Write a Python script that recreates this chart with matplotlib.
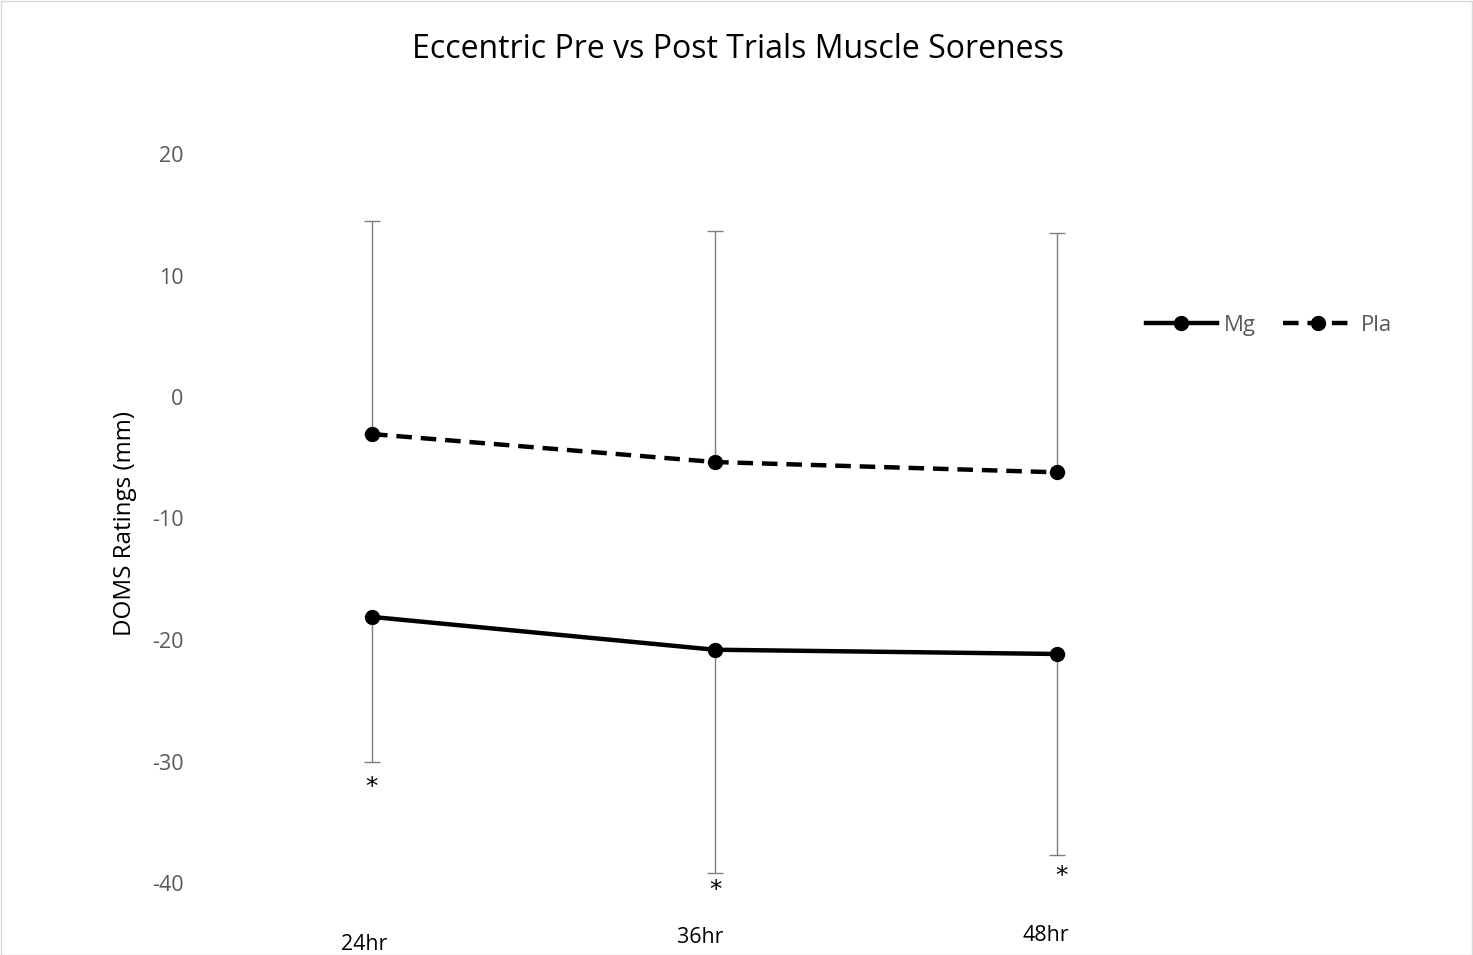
import matplotlib
matplotlib.use("Agg")
import matplotlib.pyplot as plt
from matplotlib.patches import Rectangle

plt.rcParams["axes.unicode_minus"] = False

categories = ["24hr", "36hr", "48hr"]
mg_values = [-18.1, -20.8, -21.15]
pla_values = [-3.05, -5.35, -6.2]
mg_err_lower = [11.9, 18.4, 16.55]
pla_err_upper = [17.55, 19.05, 19.7]
yticks = [20, 10, 0, -10, -20, -30, -40]

FONT = "Open Sans"

W, H = 1473, 955
fig = plt.figure(figsize=(W / 100, H / 100), dpi=100)
fig.patch.set_facecolor("white")
fig.add_artist(Rectangle((0.5 / W, 0.5 / H), 1 - 1.5 / W, 1 - 1.5 / H, transform=fig.transFigure,
                         fill=False, edgecolor="#d9d9d9", linewidth=1))

left, right = 200, 1130
top, bottom = 154, 883
ax = fig.add_axes([left / W, 1 - bottom / H, (right - left) / W, (bottom - top) / H])
for s in ax.spines.values():
    s.set_visible(False)

x = list(range(len(categories)))
x0 = (left - 372) / 342.5
x1 = (right - 372) / 342.5
ax.set_xlim(x0, x1)
ax.set_ylim(-40, 20)

ax.errorbar(x, mg_values, yerr=[mg_err_lower, [0] * 3], fmt="none", ecolor="#7f7f7f",
            elinewidth=1.0, capsize=6, capthick=1.0, zorder=1)
ax.errorbar(x, pla_values, yerr=[[0] * 3, pla_err_upper], fmt="none", ecolor="#7f7f7f",
            elinewidth=1.0, capsize=6, capthick=1.0, zorder=1)

ax.plot(x, mg_values, color="black", linewidth=3.2, marker="o", markersize=10,
        label="Mg", zorder=3)
ax.plot(x, pla_values, color="black", linewidth=3.2, linestyle=(0, (3.5, 2)), marker="o",
        markersize=10, label="Pla", zorder=3)

ax.set_xticks([])
ax.set_yticks(yticks)
ax.tick_params(axis="y", length=0, pad=12, labelsize=15.5, labelcolor="#595959")
for lab in ax.get_yticklabels():
    lab.set_fontfamily(FONT)

fig.text(125 / W, 1 - 523 / H, "DOMS Ratings (mm)", rotation=90, ha="center", va="center",
         fontsize=17.4, family=FONT)

# category labels (placed as in the original)
cat_px = [(364, 944), (700, 937), (1046, 935)]
for lab, (px, py) in zip(categories, cat_px):
    fig.text(px / W, 1 - py / H, lab, ha="center", va="center", fontsize=15.4, family=FONT)

# asterisks
star_px = [(372, 787), (715, 890), (1062, 876)]
for px, py in star_px:
    fig.text(px / W, 1 - py / H, "*", ha="center", va="center", fontsize=18,
             family="DejaVu Sans")

fig.text(738 / W, 1 - 49 / H, "Eccentric Pre vs Post Trials Muscle Soreness",
         ha="center", va="center", fontsize=23, family=FONT, color="black")

leg = fig.legend(loc="center", bbox_to_anchor=(1269 / W, 1 - 325 / H), ncol=2, frameon=False,
                 handlelength=3.2, columnspacing=1.2, handletextpad=0.32,
                 prop={"family": FONT, "size": 16})
for t in leg.get_texts():
    t.set_color("#595959")

fig.savefig("out.png", dpi=100)
